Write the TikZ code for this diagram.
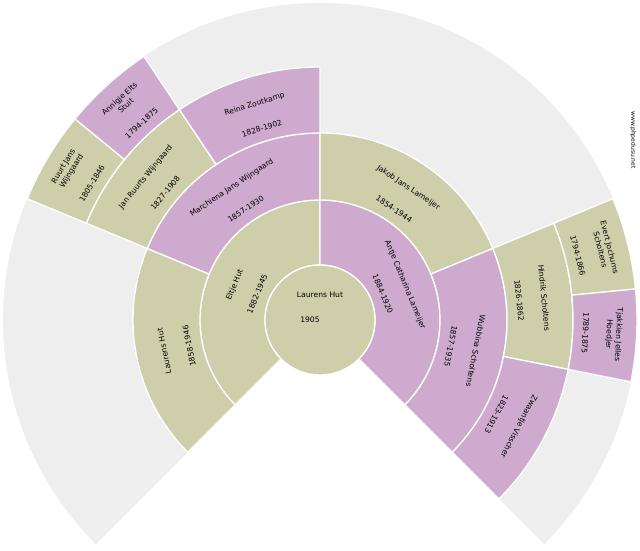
\documentclass[tikz,border=0pt]{standalone}
\usepackage{fontspec}
\setmainfont{DejaVu Sans}
\definecolor{ol}{RGB}{207,206,170}
\definecolor{pu}{RGB}{207,170,207}
\definecolor{bg}{RGB}{238,238,238}
\begin{document}
\begin{tikzpicture}[x=1pt,y=1pt,
  lbl/.style={font=\fontsize{7.6}{9.5}\selectfont,inner sep=0pt,align=center},
  sect/.style={draw=white,line width=1.3pt}]
\useasboundingbox (0,0) rectangle (640,550);
\begin{scope}[shift={(320,230)}]
\fill[bg] (0,0) -- (-45:317) arc (-45:225:317) -- cycle;
\foreach \a/\b/\ri/\ro/\c/\n/\d/\np in {
 90/225/55/120/ol/{Eltje Hut}/1882-1945/0.57,
 -45/90/55/120/pu/{Antje Catharina Lameijer}/1884-1920/0.57,
 157.5/225/120/187/ol/{Laurens Hut}/1858-1946/0.58,
 90/157.5/120/187/pu/{Marchiena Jans Wijngaard}/1857-1930/0.58,
 22.5/90/120/187/ol/{Jakob Jans Lameijer}/1854-1944/0.58,
 -45/22.5/120/187/pu/{Wubbina Scholtens}/1857-1935/0.58,
 123.75/157.5/187/253/ol/{Jan Ruurts Wijngaard}/1827-1908/0.58,
 90/123.75/187/253/pu/{Reina Zoutkamp}/1828-1902/0.58,
 -11.25/22.5/187/253/ol/{Hindrik Scholtens}/1826-1862/0.58,
 -45/-11.25/187/253/pu/{Zwaantje Visscher}/1823-1913/0.58,
 140.625/157.5/253/317/ol/{Ruurt Jans\\Wijngaard}/1805-1846/0.64,
 123.75/140.625/253/317/pu/{Annigje Elts\\Stuit}/1794-1875/0.64,
 5.625/22.5/253/317/ol/{Evert Jochums\\Scholtens}/1794-1866/0.64,
 -11.25/5.625/253/317/pu/{Tjakkien Jelles\\Hoedjer}/1789-1875/0.64}
{
 \pgfmathsetmacro\m{(\a+\b)/2}
 \pgfmathsetmacro\rn{\ri+\np*(\ro-\ri)}
 \pgfmathsetmacro\rd{\ri+0.2*(\ro-\ri)}
 \pgfmathsetmacro\rot{\m-90}
 \path[sect,fill=\c] (\a:\ri) arc (\a:\b:\ri) -- (\b:\ro) arc (\b:\a:\ro) -- cycle;
 \node[lbl,rotate=\rot] at (\m:\rn) {\n};
 \node[lbl,rotate=\rot] at (\m:\rd) {\d};
}
\fill[ol,draw=white,line width=1.3pt] (0,0) circle (55);
\node[lbl] (c) at (0,25) {Laurens Hut};
\node[lbl] (cd) at (-10,0) {1905};
\end{scope}
\node[font=\fontsize{6}{7}\selectfont,rotate=-90] (w) at (633,410) {www.phpedusu.net};
\end{tikzpicture}
\end{document}
